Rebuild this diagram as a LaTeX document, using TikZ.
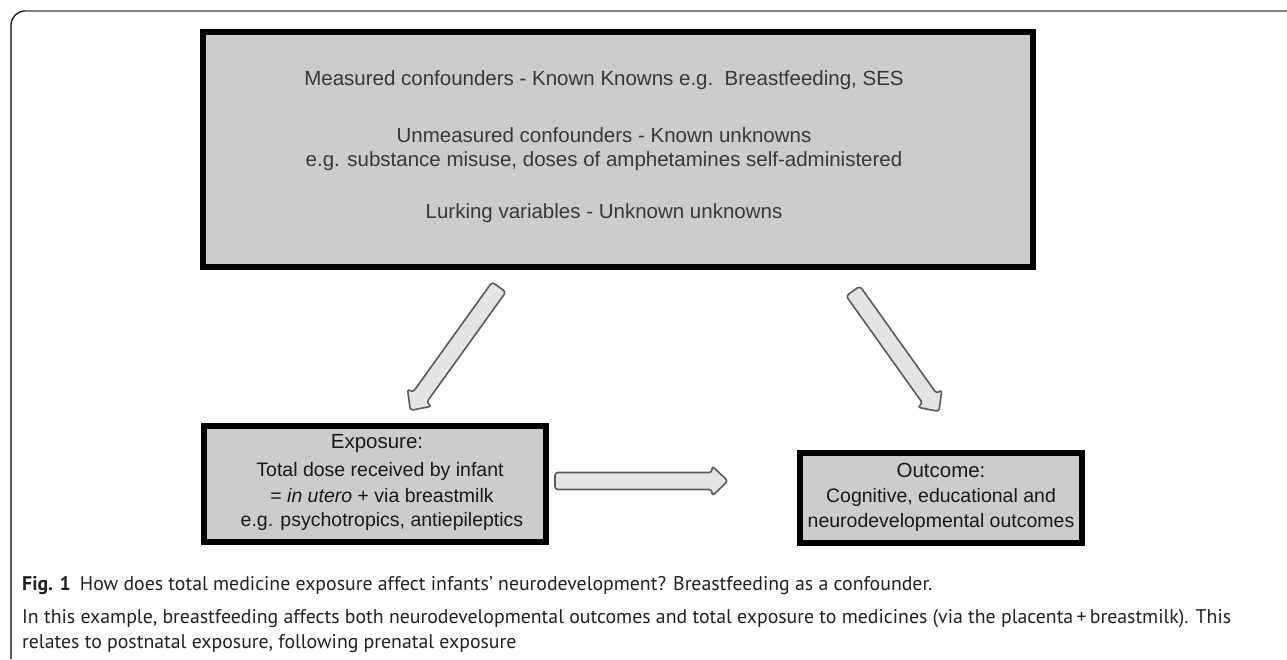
\documentclass[tikz,border=0pt]{standalone}
\usepackage{fontspec}
\setmainfont{Liberation Sans}
\newfontfamily\capfont{PT Sans}
\definecolor{boxfill}{HTML}{CCCCCC}
\definecolor{arrfill}{HTML}{E4E4E4}
\definecolor{arrline}{HTML}{5A5A5A}
\definecolor{toptext}{HTML}{383838}
\definecolor{captext}{HTML}{231F20}
\definecolor{framegray}{HTML}{808080}
\tikzset{
  bigbox/.style={draw=black, line width=6pt, fill=boxfill, inner sep=0pt},
  toptxt/.style={text=toptext, inner sep=0pt, font=\fontsize{20.5}{25}\selectfont},
  boxtitle/.style={text=black!90, inner sep=0pt, font=\fontsize{20.5}{25}\selectfont},
  boxtxt/.style={text=black!90, inner sep=0pt, font=\fontsize{19.5}{24}\selectfont},
  captxt/.style={text=captext, inner sep=0pt, anchor=base west, font=\capfont\fontsize{19.8}{23}\selectfont},
  arrowbox/.style={draw=arrline, line width=1.6pt, fill=arrfill, rounded corners=3pt, line join=round},
}
\newcommand\blockarrow[3]{%
  \begin{scope}[shift={(#1)}, rotate=#2]
    \draw[arrowbox] (0,-8.5) -- ({#3-16},-8.5) -- ({#3-16},-15) -- (#3,0) -- ({#3-16},15) -- ({#3-16},8.5) -- (0,8.5) -- cycle;
  \end{scope}}
\begin{document}
\begin{tikzpicture}[x=1pt, y=-1pt]
\useasboundingbox (0,0) rectangle (1287,659);
% outer frame
\draw[line width=1.2pt, black] (11,659) -- (11,25) arc[start angle=180, end angle=270, radius=14];
\draw[line width=2pt, framegray] (25,11) -- (1287,11);
% boxes
\node[bigbox, minimum width=830pt, minimum height=235pt] (conf) at (618,149.5) {};
\node[bigbox, minimum width=342pt, minimum height=116pt] (expo) at (375,484) {};
\node[bigbox, minimum width=282pt, minimum height=90pt] (outc) at (941,498) {};
% top box text
\node[toptxt] (c1) at (604,80) {Measured confounders - Known Knowns e.g.\ \ Breastfeeding, SES};
\node[toptxt] (c2) at (604,135) {Unmeasured confounders - Known unknowns};
\node[toptxt] (c3) at (604,161) {e.g. substance misuse, doses of amphetamines self-administered};
\node[toptxt] (c4) at (604,213) {Lurking variables - Unknown unknowns};
% exposure text
\node[boxtitle] (e1) at (377,444) {Exposure:};
\node[boxtxt] (e2) at (380,471) {Total dose received by infant};
\node[boxtxt] (e3) at (382,496) {= \textit{in utero} + via breastmilk};
\node[boxtxt] (e4) at (382,521) {e.g. psychotropics, antiepileptics};
% outcome text
\node[boxtitle] (o1) at (941,470) {Outcome:};
\node[boxtxt] (o2) at (941,497) {Cognitive, educational and};
\node[boxtxt] (o3) at (941,522) {neurodevelopmental outcomes};
% arrows
\coordinate (a1s) at (499,287);
\coordinate (a2s) at (853,291);
\coordinate (a3s) at (555,481);
\blockarrow{a1s}{234.3}{152}
\blockarrow{a2s}{-54.5}{148}
\blockarrow{a3s}{0}{173}
% caption
\node[captxt] (cap1) at (22,590) {\textbf{Fig. 1}\hspace{9pt}How does total medicine exposure affect infants’ neurodevelopment? Breastfeeding as a confounder.};
\node[captxt] (cap2) at (22,623) {In this example, breastfeeding affects both neurodevelopmental outcomes and total exposure to medicines (via the placenta\,+\,breastmilk). This};
\node[captxt] (cap3) at (22,648) {relates to postnatal exposure, following prenatal exposure};
\end{tikzpicture}
\end{document}
